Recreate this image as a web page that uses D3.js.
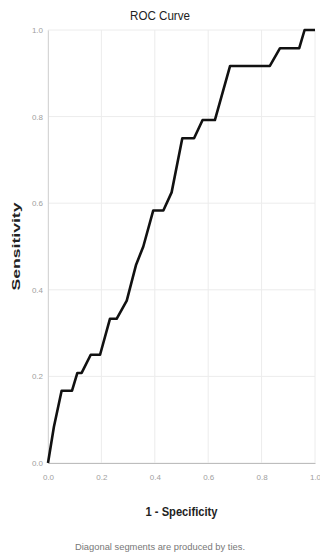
<!DOCTYPE html>
<html>
<head>
<meta charset="utf-8">
<script src="https://cdn.jsdelivr.net/npm/d3@7"></script>
<style>
  html, body { margin: 0; padding: 0; background: #fff; }
  svg { display: block; }
</style>
</head>
<body>
<svg id="chart" width="320" height="559"></svg>
<script>
// ROC curve points: 1 - specificity (x) and sensitivity (y)
const fpr = [0, 0.022, 0.051, 0.09, 0.11, 0.126, 0.16, 0.195, 0.232, 0.257, 0.295,
             0.33, 0.357, 0.394, 0.432, 0.463, 0.503, 0.547, 0.579, 0.625, 0.682,
             0.831, 0.869, 0.941, 0.961, 1.0];
const tpr = [0, 0.083, 0.167, 0.167, 0.208, 0.208, 0.25, 0.25, 0.333, 0.333, 0.375,
             0.458, 0.5, 0.583, 0.583, 0.625, 0.75, 0.75, 0.792, 0.792, 0.917,
             0.917, 0.958, 0.958, 1.0, 1.0];
const xTicks = [0, 0.2, 0.4, 0.6, 0.8, 1.0];
const yTicks = [0, 0.2, 0.4, 0.6, 0.8, 1.0];

const svg = d3.select("#chart");
const plotL = 48, plotR = 315, plotT = 30, plotB = 463;

const x = d3.scaleLinear().domain([0, 1]).range([plotL, plotR]);
const y = d3.scaleLinear().domain([0, 1]).range([plotB, plotT]);

// grid lines
const grid = svg.append("g");
grid.selectAll("line.vx").data(xTicks).join("line")
  .attr("class", "vx")
  .attr("x1", d => x(d)).attr("x2", d => x(d))
  .attr("y1", plotT).attr("y2", plotB)
  .attr("stroke", "#ececec").attr("stroke-width", 1);
grid.selectAll("line.hy").data(yTicks).join("line")
  .attr("class", "hy")
  .attr("x1", plotL).attr("x2", plotR)
  .attr("y1", d => y(d)).attr("y2", d => y(d))
  .attr("stroke", "#ececec").attr("stroke-width", 1);

// axes
const xAxis = d3.axisBottom(x).tickValues(xTicks).tickFormat(d3.format(".1f")).tickSize(0).tickPadding(11);
const yAxis = d3.axisLeft(y).tickValues(yTicks).tickFormat(d3.format(".1f")).tickSize(0).tickPadding(5);

const gx = svg.append("g").attr("transform", `translate(0,${plotB})`).call(xAxis);
const gy = svg.append("g").attr("transform", `translate(${plotL},0)`).call(yAxis);
gx.select(".domain").attr("stroke", "#bdbdbd");
gy.select(".domain").attr("stroke", "#d6d6d6");
[gx, gy].forEach(g => {
  g.selectAll("text")
    .attr("fill", "#a0a0a0")
    .style("font-family", "'Liberation Sans', Arial, sans-serif")
    .style("font-size", "8px");
});

// curve
const pts = fpr.map((v, i) => [v, tpr[i]]);
svg.append("path")
  .datum(pts)
  .attr("fill", "none")
  .attr("stroke", "#111")
  .attr("stroke-width", 2.6)
  .attr("stroke-linejoin", "round")
  .attr("d", d3.line().x(d => x(d[0])).y(d => y(d[1])));

// titles
svg.append("text")
  .attr("x", 160).attr("y", 20)
  .attr("text-anchor", "middle")
  .attr("textLength", 60).attr("lengthAdjust", "spacingAndGlyphs")
  .style("font-family", "'Liberation Sans', Arial, sans-serif")
  .style("font-size", "12.5px")
  .attr("fill", "#222")
  .text("ROC Curve");

svg.append("text")
  .attr("transform", `translate(20,${(plotT + plotB) / 2}) rotate(-90)`)
  .attr("text-anchor", "middle")
  .attr("textLength", 88).attr("lengthAdjust", "spacingAndGlyphs")
  .style("font-family", "'Liberation Sans', Arial, sans-serif")
  .style("font-size", "11px")
  .style("font-weight", "bold")
  .attr("fill", "#222")
  .text("Sensitivity");

svg.append("text")
  .attr("x", (plotL + plotR) / 2).attr("y", 516)
  .attr("text-anchor", "middle")
  .attr("textLength", 72).attr("lengthAdjust", "spacingAndGlyphs")
  .style("font-family", "'Liberation Sans', Arial, sans-serif")
  .style("font-size", "12.5px")
  .style("font-weight", "bold")
  .attr("fill", "#222")
  .text("1 - Specificity");

svg.append("text")
  .attr("x", 160).attr("y", 550)
  .attr("text-anchor", "middle")
  .attr("textLength", 170).attr("lengthAdjust", "spacingAndGlyphs")
  .style("font-family", "'Liberation Sans', Arial, sans-serif")
  .style("font-size", "9px")
  .attr("fill", "#777")
  .text("Diagonal segments are produced by ties.");
</script>
</body>
</html>
